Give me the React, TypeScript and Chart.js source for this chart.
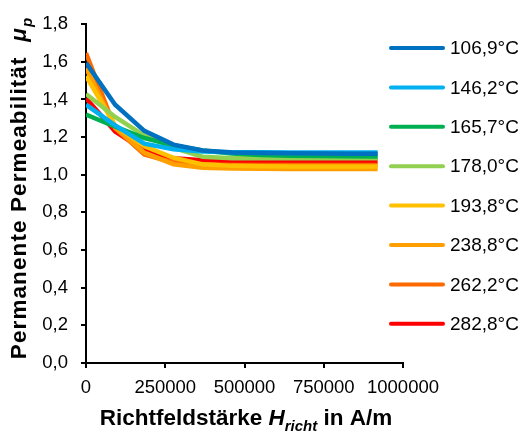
import React, { useEffect, useRef } from "react";
import { Chart, registerables } from "chart.js";

Chart.register(...registerables);

const xValues = [0, 92000, 184000, 276000, 368000, 460000, 552000, 644000, 736000, 828000, 920000];

const seriesLabels = ["106,9°C", "146,2°C", "165,7°C", "178,0°C", "193,8°C", "238,8°C", "262,2°C", "282,8°C"];
const seriesColors = ["#0070C0", "#00B0F0", "#00B050", "#92D050", "#FFC000", "#FF9F00", "#FF6A00", "#FF0000"];

const s106_9 = [1.594, 1.372, 1.233, 1.16, 1.129, 1.118, 1.115, 1.114, 1.113, 1.112, 1.112];
const s146_2 = [1.372, 1.262, 1.165, 1.135, 1.123, 1.12, 1.119, 1.118, 1.118, 1.118, 1.118];
const s165_7 = [1.32, 1.255, 1.195, 1.156, 1.129, 1.113, 1.105, 1.101, 1.099, 1.098, 1.097];
const s178_0 = [1.429, 1.307, 1.208, 1.143, 1.096, 1.088, 1.087, 1.087, 1.087, 1.087, 1.087];
const s193_8 = [1.524, 1.262, 1.151, 1.09, 1.055, 1.047, 1.045, 1.044, 1.044, 1.044, 1.044];
const s238_8 = [1.568, 1.25, 1.117, 1.056, 1.037, 1.033, 1.032, 1.031, 1.031, 1.031, 1.031];
const s262_2 = [1.646, 1.247, 1.108, 1.065, 1.055, 1.052, 1.052, 1.052, 1.052, 1.052, 1.052];
const s282_8 = [1.406, 1.229, 1.129, 1.087, 1.077, 1.073, 1.072, 1.072, 1.072, 1.072, 1.072];

const seriesValues = [s106_9, s146_2, s165_7, s178_0, s193_8, s238_8, s262_2, s282_8];

const xTickValues = [0, 250000, 500000, 750000, 1000000];

const FONT = '"Liberation Sans", Arial, sans-serif';

const titlesAndLegend = {
  id: "titlesAndLegend",
  afterDraw(chart: any) {
    const ctx = chart.ctx as any;
    ctx.save();
    ctx.fillStyle = "#000";
    ctx.textBaseline = "alphabetic";
    ctx.textAlign = "left";

    // X axis title
    const parts: [string, string, number][] = [
      ["Richtfeldstärke ", `bold 22.5px ${FONT}`, 0],
      ["H", `italic bold 22.5px ${FONT}`, 0],
      ["richt", `italic bold 15px ${FONT}`, 6],
      [" in A/m", `bold 22.5px ${FONT}`, 0],
    ];
    let total = 0;
    for (const [t, f] of parts) {
      ctx.font = f;
      total += ctx.measureText(t).width;
    }
    let x = 246 - total / 2;
    const baseY = 425;
    for (const [t, f, dy] of parts) {
      ctx.font = f;
      ctx.fillText(t, x, baseY + dy);
      x += ctx.measureText(t).width;
    }

    // Y axis title
    ctx.save();
    ctx.letterSpacing = "1.1px";
    const yparts: [string, string, number][] = [
      ["Permanente Permeabilität  ", `bold 22.5px ${FONT}`, 0],
      ["μ", `italic bold 22.5px ${FONT}`, 0],
      ["p", `italic bold 15px ${FONT}`, 6],
    ];
    let ytotal = 0;
    for (const [t, f] of yparts) {
      ctx.font = f;
      ytotal += ctx.measureText(t).width;
    }
    ctx.translate(25.5, 188);
    ctx.rotate(-Math.PI / 2);
    let yx = -ytotal / 2;
    for (const [t, f, dy] of yparts) {
      ctx.font = f;
      ctx.fillText(t, yx, dy);
      yx += ctx.measureText(t).width;
    }
    ctx.restore();

    // Legend
    ctx.font = `19px ${FONT}`;
    ctx.textBaseline = "middle";
    chart.data.datasets.forEach((ds: any, i: number) => {
      const ly = 48 + i * 39.4;
      ctx.strokeStyle = ds.borderColor;
      ctx.lineWidth = 4;
      ctx.lineCap = "round";
      ctx.beginPath();
      ctx.moveTo(391, ly);
      ctx.lineTo(443, ly);
      ctx.stroke();
      ctx.fillStyle = "#000";
      ctx.fillText(ds.label, 450, ly + 1);
    });
    ctx.restore();
  },
};

export default function App() {
  const ref = useRef<HTMLCanvasElement | null>(null);
  useEffect(() => {
    if (!ref.current) return;
    const datasets = seriesLabels.map((label, i) => ({
      label,
      data: xValues.map((xv, j) => ({ x: xv, y: seriesValues[i][j] })),
      borderColor: seriesColors[i],
      backgroundColor: seriesColors[i],
      borderWidth: 4.5,
      pointRadius: 0,
      tension: 0,
      fill: false,
    }));
    const chart = new Chart(ref.current, {
      type: "line",
      data: { datasets },
      options: {
        animation: false,
        responsive: false,
        layout: { padding: { left: 0, top: 18, right: 125, bottom: 0 } },
        plugins: { legend: { display: false }, tooltip: { enabled: false } },
        scales: {
          x: {
            type: "linear",
            min: 0,
            max: 1000000,
            afterBuildTicks: (scale: any) => {
              scale.ticks = xTickValues.map((v) => ({ value: v }));
            },
            afterFit: (scale: any) => {
              scale.height = 73;
            },
            ticks: {
              color: "#000",
              font: { family: FONT, size: 18.5 },
              padding: 9,
              maxRotation: 0,
              autoSkip: false,
              callback: (v: any) => String(v),
            },
            grid: { display: true, drawOnChartArea: false, drawTicks: true, tickLength: 5, color: "#000", lineWidth: 2 },
            border: { display: true, color: "#000", width: 2 },
          },
          y: {
            type: "linear",
            min: 0,
            max: 1.8,
            ticks: {
              stepSize: 0.2,
              color: "#000",
              font: { family: FONT, size: 18.5 },
              padding: 13,
              callback: (v: any) => Number(v).toFixed(1).replace(".", ","),
            },
            afterFit: (scale: any) => {
              scale.width = 86;
            },
            grid: { display: true, drawOnChartArea: false, drawTicks: true, tickLength: 5, color: "#000", lineWidth: 2 },
            border: { display: true, color: "#000", width: 2 },
          },
        },
      },
      plugins: [titlesAndLegend],
    });
    return () => chart.destroy();
  }, []);
  return (
    <div style={{ position: "fixed", left: 0, top: 0, width: 528, height: 436, background: "#fff" }}>
      <canvas ref={ref} width={528} height={436} style={{ display: "block", width: 528, height: 436 }} />
    </div>
  );
}
